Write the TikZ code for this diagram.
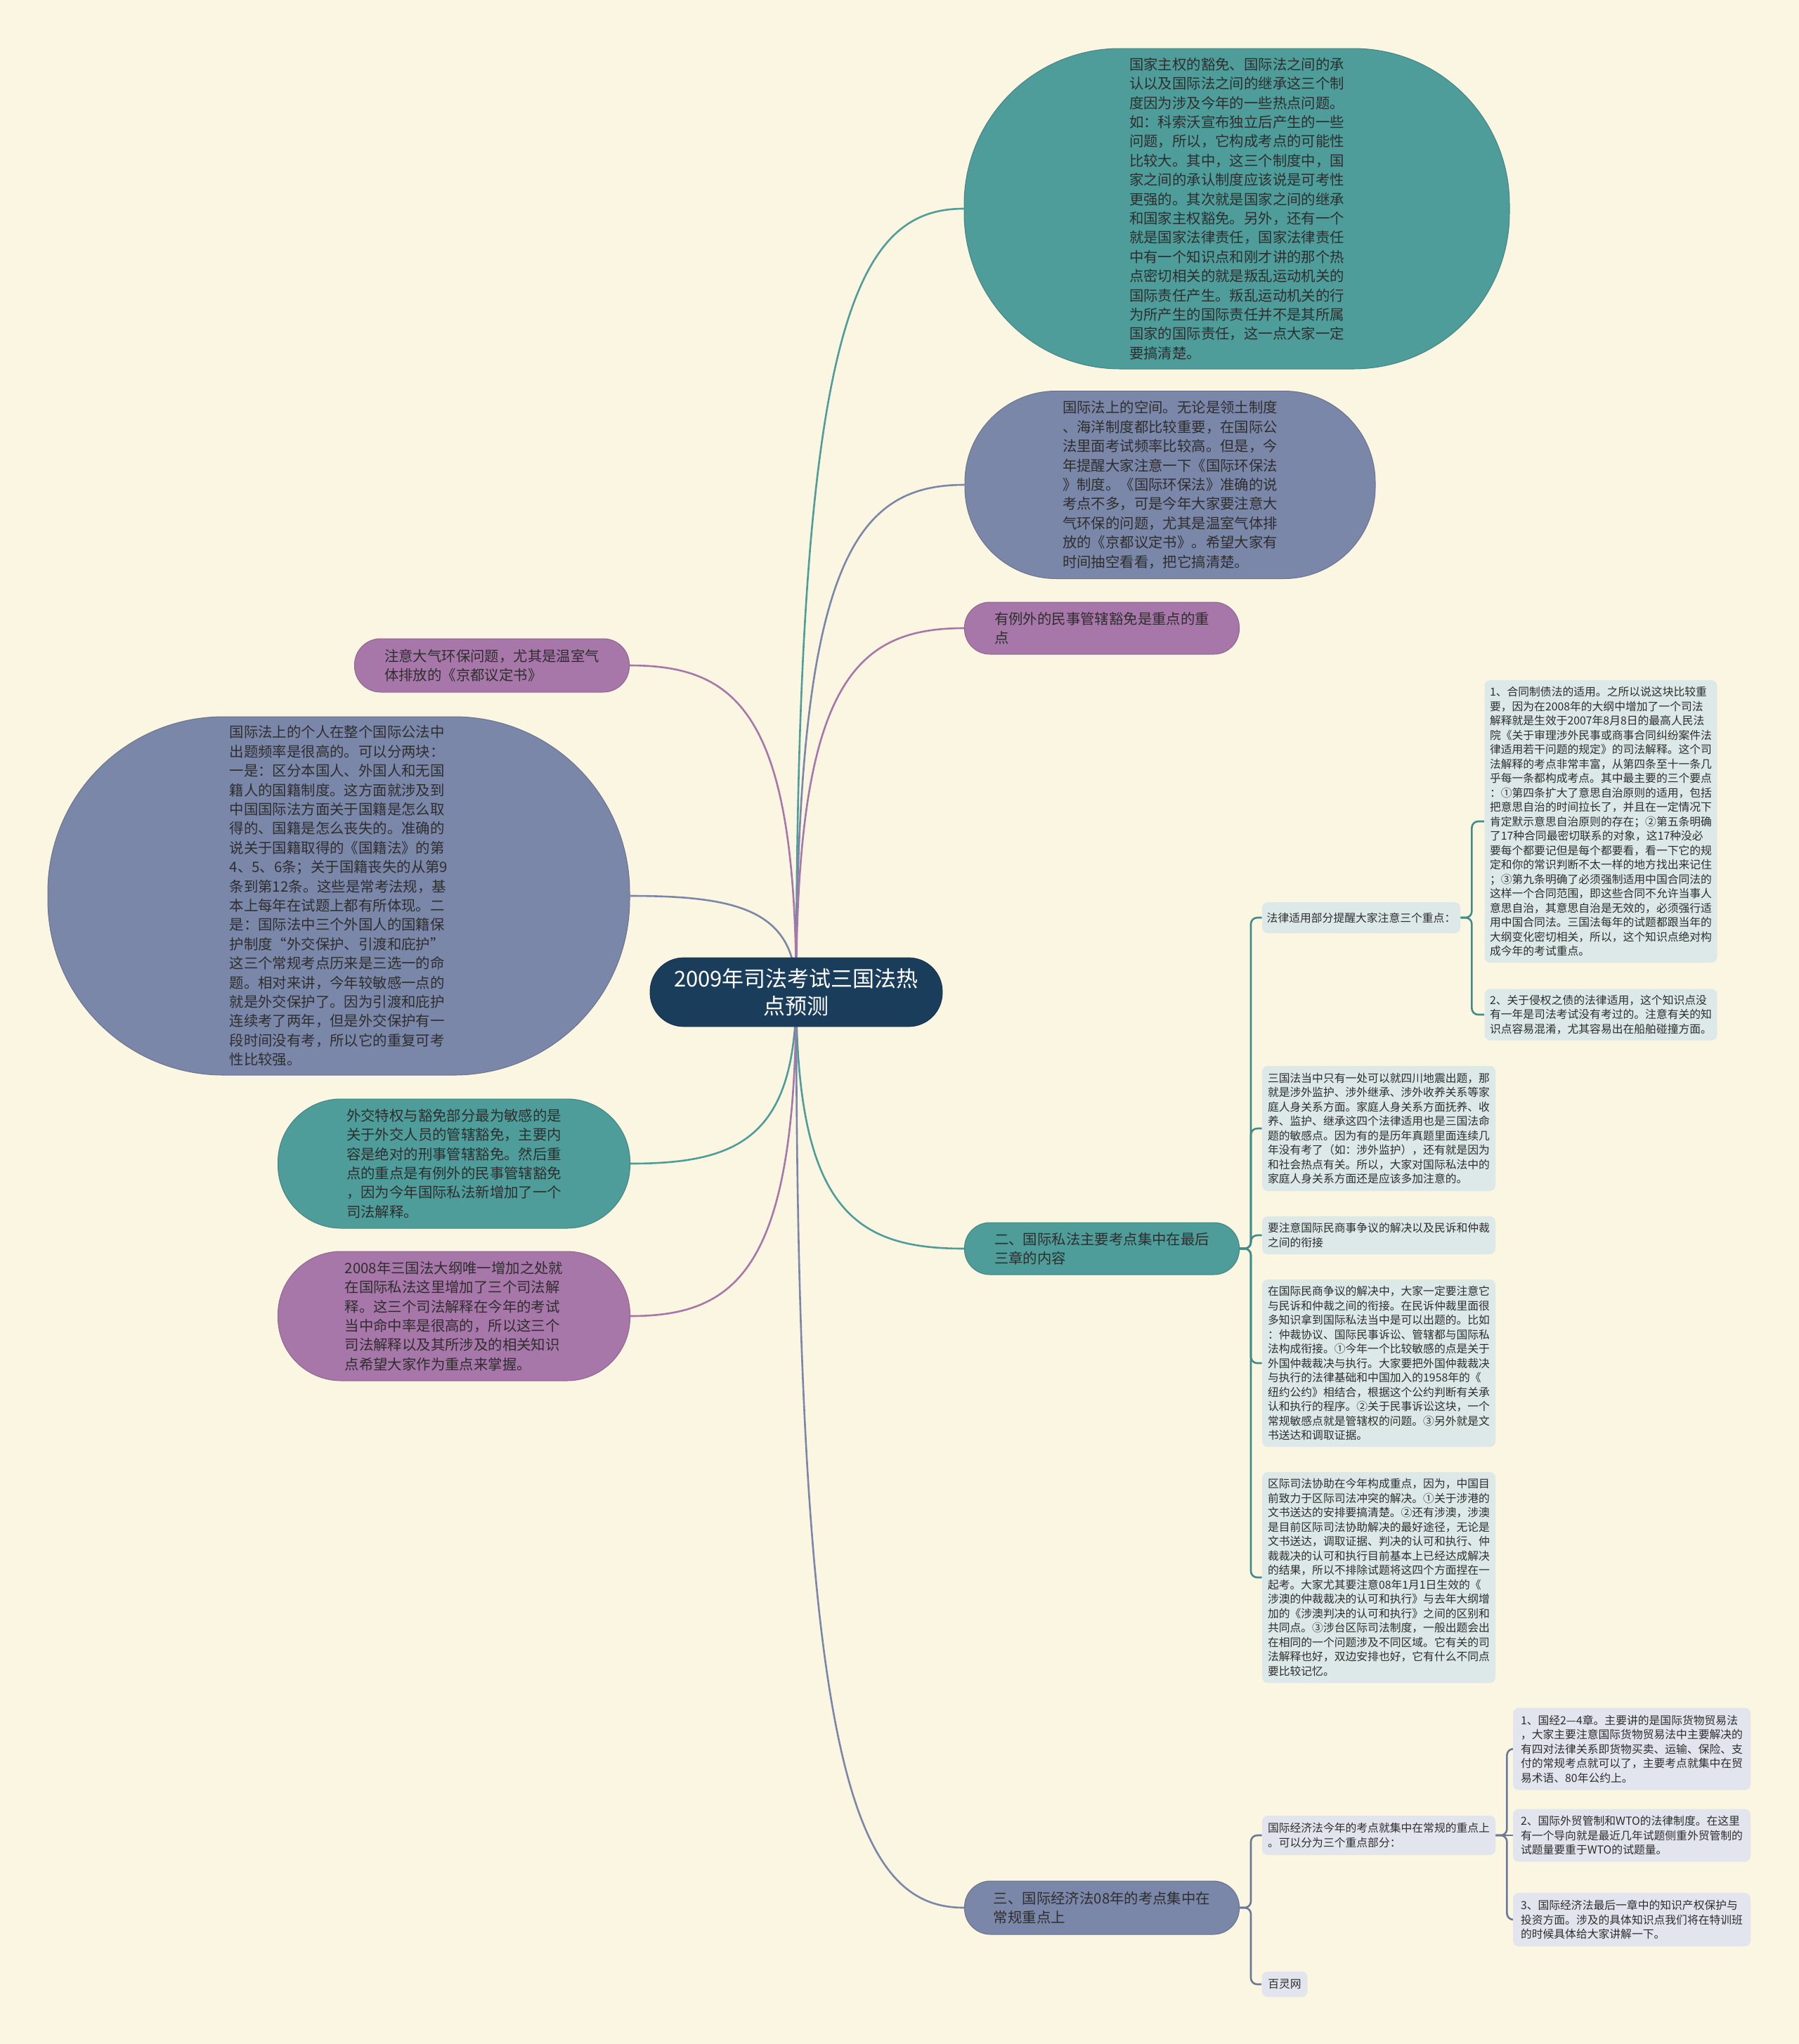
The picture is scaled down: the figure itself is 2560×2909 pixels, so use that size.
\documentclass[tikz,border=0pt]{standalone}
\usepackage{fontspec}
\setmainfont{Noto Sans CJK SC}
\usetikzlibrary{calc,backgrounds}

\definecolor{paper}{HTML}{FAF6E1}
\definecolor{rootblue}{HTML}{1B3D5C}
\definecolor{sea}{HTML}{4E9D9B}
\definecolor{seadark}{HTML}{3F8C8A}
\definecolor{slate}{HTML}{7B87A9}
\definecolor{slatedark}{HTML}{6C789A}
\definecolor{mauve}{HTML}{A877A9}
\definecolor{seapale}{HTML}{DCE9E8}
\definecolor{slatepale}{HTML}{E2E5EE}
\definecolor{ink}{HTML}{2E2E2E}

\begin{document}
\begin{tikzpicture}[x=0.5pt,y=-0.5pt,
  root/.style={fill=rootblue,draw=rootblue!80!black,text=white,align=center,inner sep=0pt,
    font=\fontsize{15.5pt}{19.5pt}\selectfont,minimum width=208pt,minimum height=49pt,rounded corners=24pt},
  topic/.style={fill=#1,draw=#1!85!black,line width=0.5pt,text=ink,align=left,inner sep=0pt,
    font=\fontsize{10.2pt}{13.7pt}\selectfont},
  note/.style={fill=#1,text=ink,align=left,inner sep=0pt,rounded corners=4pt,
    font=\fontsize{7.9pt}{10.25pt}\selectfont},
  bough/.style={line width=1.3pt,
    to path={.. controls ($(\tikztostart)!.85!(\tikztostart|-\tikztotarget)$)
      and ($(\tikztostart|-\tikztotarget)!.35!(\tikztotarget)$) .. (\tikztotarget)}},
  twig/.style={line width=1.3pt,rounded corners=4.5pt,
    to path={-- ++(16,0) |- (\tikztotarget)}}]
\useasboundingbox (0,0) rectangle (2560,2909);

% centre
\node[root] (root) at (1133,1412) {2009年司法考试三国法热\\点预测};

% right side
\node[topic=sea,minimum width=388pt,minimum height=228pt,rounded corners=111pt] (r1) at (1760,297)
  {国家主权的豁免、国际法之间的承\\认以及国际法之间的继承这三个制\\度因为涉及今年的一些热点问题。\\如：科索沃宣布独立后产生的一些\\问题，所以，它构成考点的可能性\\比较大。其中，这三个制度中，国\\家之间的承认制度应该说是可考性\\更强的。其次就是国家之间的继承\\和国家主权豁免。另外，还有一个\\就是国家法律责任，国家法律责任\\中有一个知识点和刚才讲的那个热\\点密切相关的就是叛乱运动机关的\\国际责任产生。叛乱运动机关的行\\为所产生的国际责任并不是其所属\\国家的国际责任，这一点大家一定\\要搞清楚。};
\node[topic=slate,minimum width=292pt,minimum height=133.5pt,rounded corners=65pt] (r2) at (1665,690)
  {国际法上的空间。无论是领土制度\\、海洋制度都比较重要，在国际公\\法里面考试频率比较高。但是，今\\年提醒大家注意一下《国际环保法\\》制度。《国际环保法》准确的说\\考点不多，可是今年大家要注意大\\气环保的问题，尤其是温室气体排\\放的《京都议定书》。希望大家有\\时间抽空看看，把它搞清楚。};
\node[topic=mauve,minimum width=195.5pt,minimum height=37pt,rounded corners=18pt] (r3) at (1568,894)
  {有例外的民事管辖豁免是重点的重\\点};
\node[topic=sea,minimum width=195.5pt,minimum height=37pt,rounded corners=18pt] (r4) at (1568,1777)
  {二、国际私法主要考点集中在最后\\三章的内容};
\node[topic=slate,minimum width=195.5pt,minimum height=38pt,rounded corners=18.5pt] (r5) at (1568,2715)
  {三、国际经济法08年的考点集中在\\常规重点上};

% left side
\node[topic=mauve,minimum width=195.5pt,minimum height=38pt,rounded corners=18.5pt] (l1) at (700,947)
  {注意大气环保问题，尤其是温室气\\体排放的《京都议定书》};
\node[topic=slate,minimum width=414pt,minimum height=255pt,rounded corners=125pt] (l2) at (482,1275)
  {国际法上的个人在整个国际公法中\\出题频率是很高的。可以分两块：\\一是：区分本国人、外国人和无国\\籍人的国籍制度。这方面就涉及到\\中国国际法方面关于国籍是怎么取\\得的、国籍是怎么丧失的。准确的\\说关于国籍取得的《国籍法》的第\\4、5、6条；关于国籍丧失的从第9\\条到第12条。这些是常考法规，基\\本上每年在试题上都有所体现。二\\是：国际法中三个外国人的国籍保\\护制度“外交保护、引渡和庇护”\\这三个常规考点历来是三选一的命\\题。相对来讲，今年较敏感一点的\\就是外交保护了。因为引渡和庇护\\连续考了两年，但是外交保护有一\\段时间没有考，所以它的重复可考\\性比较强。};
\node[topic=sea,minimum width=250.5pt,minimum height=92pt,rounded corners=45pt] (l3) at (646,1656)
  {外交特权与豁免部分最为敏感的是\\关于外交人员的管辖豁免，主要内\\容是绝对的刑事管辖豁免。然后重\\点的重点是有例外的民事管辖豁免\\，因为今年国际私法新增加了一个\\司法解释。};
\node[topic=mauve,minimum width=250.5pt,minimum height=92pt,rounded corners=45pt] (l4) at (646,1873)
  {2008年三国法大纲唯一增加之处就\\在国际私法这里增加了三个司法解\\释。这三个司法解释在今年的考试\\当中命中率是很高的，所以这三个\\司法解释以及其所涉及的相关知识\\点希望大家作为重点来掌握。};

% notes of the private law branch
\node[note=seapale,minimum width=141pt,minimum height=22pt] (c1) at (1937,1306)
  {法律适用部分提醒大家注意三个重点：};
\node[note=seapale,minimum width=165.5pt,minimum height=201pt] (d1) at (2278,1169)
  {1、合同制债法的适用。之所以说这块比较重\\要，因为在2008年的大纲中增加了一个司法\\解释就是生效于2007年8月8日的最高人民法\\院《关于审理涉外民事或商事合同纠纷案件法\\律适用若干问题的规定》的司法解释。这个司\\法解释的考点非常丰富，从第四条至十一条几\\乎每一条都构成考点。其中最主要的三个要点\\：①第四条扩大了意思自治原则的适用，包括\\把意思自治的时间拉长了，并且在一定情况下\\肯定默示意思自治原则的存在；②第五条明确\\了17种合同最密切联系的对象，这17种没必\\要每个都要记但是每个都要看，看一下它的规\\定和你的常识判断不太一样的地方找出来记住\\；③第九条明确了必须强制适用中国合同法的\\这样一个合同范围，即这些合同不允许当事人\\意思自治，其意思自治是无效的，必须强行适\\用中国合同法。三国法每年的试题都跟当年的\\大纲变化密切相关，所以，这个知识点绝对构\\成今年的考试重点。};
\node[note=seapale,minimum width=165.5pt,minimum height=36.5pt] (d2) at (2278,1444)
  {2、关于侵权之债的法律适用，这个知识点没\\有一年是司法考试没有考过的。注意有关的知\\识点容易混淆，尤其容易出在船舶碰撞方面。};
\node[note=seapale,minimum width=166pt,minimum height=89pt] (c2) at (1962,1606)
  {三国法当中只有一处可以就四川地震出题，那\\就是涉外监护、涉外继承、涉外收养关系等家\\庭人身关系方面。家庭人身关系方面抚养、收\\养、监护、继承这四个法律适用也是三国法命\\题的敏感点。因为有的是历年真题里面连续几\\年没有考了（如：涉外监护），还有就是因为\\和社会热点有关。所以，大家对国际私法中的\\家庭人身关系方面还是应该多加注意的。};
\node[note=seapale,minimum width=166pt,minimum height=27pt] (c3) at (1962,1758)
  {要注意国际民商事争议的解决以及民诉和仲裁\\之间的衔接};
\node[note=seapale,minimum width=166pt,minimum height=119pt] (c4) at (1962,1940)
  {在国际民商争议的解决中，大家一定要注意它\\与民诉和仲裁之间的衔接。在民诉仲裁里面很\\多知识拿到国际私法当中是可以出题的。比如\\：仲裁协议、国际民事诉讼、管辖都与国际私\\法构成衔接。①今年一个比较敏感的点是关于\\外国仲裁裁决与执行。大家要把外国仲裁裁决\\与执行的法律基础和中国加入的1958年的《\\纽约公约》相结合，根据这个公约判断有关承\\认和执行的程序。②关于民事诉讼这块，一个\\常规敏感点就是管辖权的问题。③另外就是文\\书送达和调取证据。};
\node[note=seapale,minimum width=166pt,minimum height=150pt] (c5) at (1962,2245)
  {区际司法协助在今年构成重点，因为，中国目\\前致力于区际司法冲突的解决。①关于涉港的\\文书送达的安排要搞清楚。②还有涉澳，涉澳\\是目前区际司法协助解决的最好途径，无论是\\文书送达，调取证据、判决的认可和执行、仲\\裁裁决的认可和执行目前基本上已经达成解决\\的结果，所以不排除试题将这四个方面捏在一\\起考。大家尤其要注意08年1月1日生效的《\\涉澳的仲裁裁决的认可和执行》与去年大纲增\\加的《涉澳判决的认可和执行》之间的区别和\\共同点。③涉台区际司法制度，一般出题会出\\在相同的一个问题涉及不同区域。它有关的司\\法解释也好，双边安排也好，它有什么不同点\\要比较记忆。};

% notes of the economic law branch
\node[note=slatepale,minimum width=166pt,minimum height=28pt] (e1) at (1962,2612)
  {国际经济法今年的考点就集中在常规的重点上\\。可以分为三个重点部分：};
\node[note=slatepale,minimum width=32.5pt,minimum height=18pt] (e2) at (1828,2824) {百灵网};
\node[note=slatepale,minimum width=169pt,minimum height=58.5pt] (f1) at (2322,2489)
  {1、国经2—4章。主要讲的是国际货物贸易法\\，大家主要注意国际货物贸易法中主要解决的\\有四对法律关系即货物买卖、运输、保险、支\\付的常规考点就可以了，主要考点就集中在贸\\易术语、80年公约上。};
\node[note=slatepale,minimum width=169pt,minimum height=37.5pt] (f2) at (2322,2612)
  {2、国际外贸管制和WTO的法律制度。在这里\\有一个导向就是最近几年试题侧重外贸管制的\\试题量要重于WTO的试题量。};
\node[note=slatepale,minimum width=169pt,minimum height=38pt] (f3) at (2322,2732)
  {3、国际经济法最后一章中的知识产权保护与\\投资方面。涉及的具体知识点我们将在特训班\\的时候具体给大家讲解一下。};

\begin{scope}[on background layer]
  \fill[paper] (0,0) rectangle (2560,2909);
  % main boughs
  \draw[bough,sea] (root.center) to (r1.west);
  \draw[bough,slate] (root.center) to (r2.west);
  \draw[bough,mauve] (root.center) to (r3.west);
  \draw[bough,sea] (root.center) to (r4.west);
  \draw[bough,slate] (root.center) to (r5.west);
  \draw[bough,mauve] (root.center) to (l1.east);
  \draw[bough,slate] (root.center) to (l2.east);
  \draw[bough,sea] (root.center) to (l3.east);
  \draw[bough,mauve] (root.center) to (l4.east);
  % twigs
  \foreach \n in {c1,c2,c3,c4,c5}
    \draw[twig,seadark] (r4.east) to (\n.west);
  \foreach \n in {d1,d2}
    \draw[twig,seadark] (c1.east) to (\n.west);
  \foreach \n in {e1,e2}
    \draw[twig,slatedark] (r5.east) to (\n.west);
  \foreach \n in {f1,f3}
    \draw[twig,slatedark] (e1.east) to (\n.west);
  \draw[slatedark,line width=1.3pt] (e1.east) -- (f2.west);
\end{scope}
\end{tikzpicture}
\end{document}
